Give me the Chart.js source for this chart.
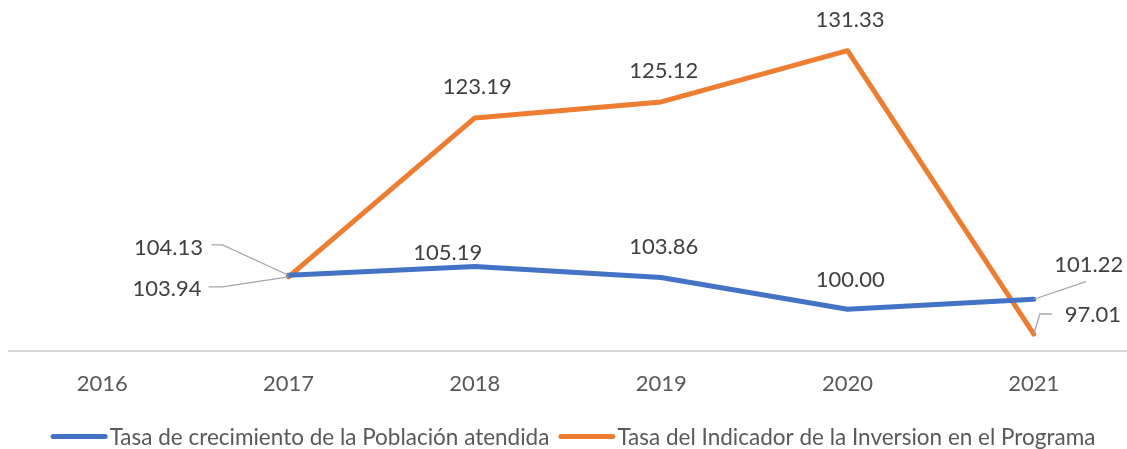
<!DOCTYPE html>
<html>
<head>
<meta charset="utf-8">
<script src="https://cdn.jsdelivr.net/npm/chart.js@4.4.1/dist/chart.umd.min.js"></script>
<style>
html,body{margin:0;padding:0;background:#fff;}
#wrap{position:relative;width:1127px;height:449px;}
</style>
</head>
<body>
<div id="wrap"><canvas id="c" width="1127" height="449"></canvas></div>
<script>
// ---- data ----
const categories = ['2016', '2017', '2018', '2019', '2020', '2021'];
const poblacion = [null, 104.13, 105.19, 103.86, 100.00, 101.22];
const inversion = [null, 103.94, 123.19, 125.12, 131.33, 97.01];
const seriesNames = ['Tasa de crecimiento de la Población atendida', 'Tasa del Indicador de la Inversion en el Programa'];

// ---- styles ----
const FONT = 'Lato, "Open Sans", sans-serif';
const COLORS = ['#4472C4', '#ED7D31'];
// label placement relative to each point (dx, dy of text centre), optional leader polyline
const labelStyle = [
  [null,
   {dx: -120, dy: -27.5, leader: [[-66, -30.3], [-77, -30.3]]},
   {dx: -27, dy: -13.5},
   {dx: 2.5, dy: -31},
   {dx: 2.7, dy: -30.3},
   {dx: 55, dy: -35, leader: [[52, -17.7]]}],
  [null,
   {dx: -121.5, dy: 11.6, leader: [[-66, 10], [-80, 10]]},
   {dx: 2.5, dy: -31},
   {dx: 2.5, dy: -31},
   {dx: 2.5, dy: -31},
   {dx: 59, dy: -19.5, leader: [[6, -20], [18, -20]]}]
];

const labelPlugin = {
  id: 'labels',
  afterDatasetsDraw(chart) {
    const ctx = chart.ctx;
    ctx.save();
    ctx.font = '22px ' + FONT;
    const m = ctx.measureText('0');
    const asc = m.actualBoundingBoxAscent;
    chart.data.datasets.forEach((ds, di) => {
      const meta = chart.getDatasetMeta(di);
      meta.data.forEach((pt, i) => {
        const v = ds.data[i];
        const st = labelStyle[di][i];
        if (v == null || !st) return;
        const x = pt.x, y = pt.y;
        if (st.leader) {
          ctx.strokeStyle = '#a6a6a6';
          ctx.lineWidth = 1.3;
          ctx.beginPath();
          ctx.moveTo(x, y);
          st.leader.forEach(p => ctx.lineTo(x + p[0], y + p[1]));
          ctx.stroke();
        }
        ctx.fillStyle = '#404040';
        ctx.textAlign = 'center';
        ctx.textBaseline = 'alphabetic';
        ctx.fillText(v.toFixed(2), x + st.dx, y + st.dy + asc / 2);
      });
    });
    ctx.restore();
  }
};

const legendPlugin = {
  id: 'manualLegend',
  afterDraw(chart) {
    const ctx = chart.ctx;
    ctx.save();
    ctx.font = '22.5px ' + FONT;
    const swatch = 57, gapText = 2, gapItem = 9;
    const widths = chart.data.datasets.map(d => ctx.measureText(d.label).width);
    let total = 0;
    widths.forEach((w, i) => { total += swatch + gapText + w + (i ? gapItem : 0); });
    let x = 573 - total / 2;
    const cy = 436.5;
    const asc = ctx.measureText('T').actualBoundingBoxAscent;
    chart.data.datasets.forEach((d, i) => {
      if (i) x += gapItem;
      ctx.strokeStyle = d.borderColor;
      ctx.lineWidth = 5;
      ctx.lineCap = 'round';
      ctx.beginPath();
      ctx.moveTo(x + 2.5, cy);
      ctx.lineTo(x + swatch - 2.5, cy);
      ctx.stroke();
      x += swatch + gapText;
      ctx.fillStyle = '#595959';
      ctx.textAlign = 'left';
      ctx.textBaseline = 'alphabetic';
      ctx.fillText(d.label, x, cy + asc / 2);
      x += widths[i];
    });
    ctx.restore();
  }
};

new Chart(document.getElementById('c'), {
  type: 'line',
  data: {
    labels: categories,
    datasets: [
      {label: seriesNames[0], data: poblacion, borderColor: COLORS[0], backgroundColor: COLORS[0], borderWidth: 5, pointRadius: 0, tension: 0, borderCapStyle: 'round', borderJoinStyle: 'round'},
      {label: seriesNames[1], data: inversion, borderColor: COLORS[1], backgroundColor: COLORS[1], borderWidth: 5, pointRadius: 0, tension: 0, borderCapStyle: 'round', borderJoinStyle: 'round'}
    ]
  },
  options: {
    responsive: false,
    animation: false,
    layout: {padding: {top: 20.4, left: 9, right: -3, bottom: 0}},
    plugins: {legend: {display: false}, tooltip: {enabled: false}},
    scales: {
      x: {
        offset: true,
        grid: {display: false, drawTicks: false},
        border: {display: true, color: '#d9d9d9', width: 2},
        ticks: {color: '#595959', font: {family: FONT, size: 22}, padding: 20},
        afterFit(scale) { scale.height = 98.4; }
      },
      y: {display: false, min: 95, max: 135}
    }
  },
  plugins: [labelPlugin, legendPlugin]
});
</script>
</body>
</html>
